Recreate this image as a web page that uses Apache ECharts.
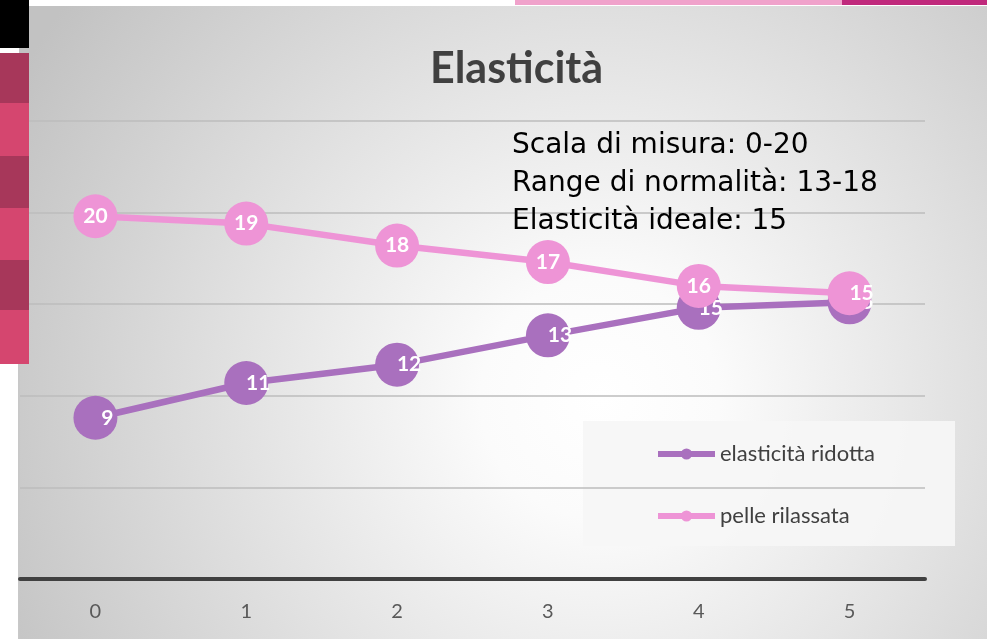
<!DOCTYPE html>
<html>
<head>
<meta charset="utf-8">
<script src="https://cdn.jsdelivr.net/npm/echarts@6/dist/echarts.min.js"></script>
<style>
html,body{margin:0;padding:0;background:#fff;}
#chart{width:987px;height:639px;}
</style>
</head>
<body>
<div id="chart"></div>
<script>
// ---- data ----
const categories = ['0', '1', '2', '3', '4', '5'];
const seriesNames = ['elasticità ridotta', 'pelle rilassata'];
// plotted values
const elasticitaRidotta = [8.8, 10.7, 11.7, 13.3, 14.8, 15.1];
const pelleRilassata = [19.8, 19.4, 18.2, 17.3, 16.0, 15.6];
// values written in the data labels
const elasticitaRidottaLabels = [9, 11, 12, 13, 15, 15];
const pelleRilassataLabels = [20, 19, 18, 17, 16, 15];
const yMin = 0, yMax = 25, yInterval = 5;
const titleText = 'Elasticità';
const noteLines = ['Scala di misura: 0-20', 'Range di normalità: 13-18', 'Elasticità ideale: 15'];

// ---- styles ----
const purple = '#A970BE';
const pink = '#EE94D6';
const purpleLabelDx = [12, 12, 12, 12, 12, 12];
const pinkLabelDx = [0, 0, 0, 0, 0, 12];

function buildData(values, labels, dx) {
  return values.map((v, i) => ({
    value: v,
    label: { formatter: String(labels[i]), offset: [dx[i], 0] }
  }));
}

const chart = echarts.init(document.getElementById('chart'), null, { renderer: 'canvas' });

const leftBlocks = [];
const blockColors = ['#A7375A', '#D5466F', '#A7375A', '#D5466F', '#A7375A', '#D5466F'];
const blockEdges = [53, 103, 156, 208, 260, 310, 364];
for (let i = 0; i < blockColors.length; i++) {
  leftBlocks.push({
    type: 'rect', z: 20,
    shape: { x: 0, y: blockEdges[i], width: 29, height: blockEdges[i + 1] - blockEdges[i] },
    style: { fill: blockColors[i] }
  });
}

const option = {
  backgroundColor: '#ffffff',
  animation: false,
  title: {
    text: titleText,
    left: 425, top: 43,
    textStyle: { fontFamily: 'Lato', fontWeight: 'bold', fontSize: 43, color: '#404040' }
  },
  legend: {
    orient: 'vertical',
    left: 650, top: 438,
    itemWidth: 57, itemHeight: 14,
    itemGap: 40,
    data: seriesNames,
    lineStyle: { width: 6 },
    textStyle: { fontFamily: 'Lato', fontSize: 22, color: '#404040' }
  },
  grid: { left: 20, right: 62, top: 121, bottom: 60, containLabel: false },
  xAxis: {
    type: 'category',
    data: categories,
    boundaryGap: true,
    axisLine: { show: true, lineStyle: { color: '#404040', width: 4 } },
    axisTick: { show: false },
    axisLabel: { fontFamily: 'Lato', fontSize: 20, color: '#595959', margin: 23 },
    splitLine: { show: false }
  },
  yAxis: {
    type: 'value',
    min: yMin, max: yMax, interval: yInterval,
    axisLine: { show: false }, axisTick: { show: false }, axisLabel: { show: false },
    splitLine: { show: true, lineStyle: { color: '#BDBDBD', width: 1.5 } }
  },
  graphic: [
    // chart area background (radial gradient)
    { type: 'rect', z: -100, shape: { x: 19, y: 6, width: 968, height: 633 },
      style: { fill: new echarts.graphic.RadialGradient(0.6, 0.62, 1.05, [
        { offset: 0, color: '#ffffff' }, { offset: 0.18, color: '#fbfbfb' }, { offset: 1, color: '#c2c2c2' }]) } },
    // left border line of chart frame
    { type: 'rect', z: -99, shape: { x: 18, y: 364, width: 1.5, height: 275 }, style: { fill: '#c8c8c8' } },
    // top decorative band
    { type: 'rect', z: 20, shape: { x: 515, y: 0, width: 330, height: 5 }, style: { fill: '#F0A2CB' } },
    { type: 'rect', z: 20, shape: { x: 842, y: 0, width: 145, height: 5 }, style: { fill: '#C0297C' } },
    // top-left black block
    { type: 'rect', z: 20, shape: { x: 0, y: 0, width: 29, height: 48 }, style: { fill: '#000000' } },
    ...leftBlocks,
    // legend box (beneath grid lines)
    { type: 'rect', z: -50, shape: { x: 583, y: 421, width: 372, height: 125 }, style: { fill: 'rgba(246,246,246,0.92)' } },
    // note text
    { type: 'text', z: 10, left: 512, top: 127,
      style: { text: noteLines.join('\n'), fontFamily: 'DejaVu Sans', fontSize: 28, lineHeight: 38, fill: '#000000' } }
  ],
  series: [
    {
      name: seriesNames[0], type: 'line', z: 2,
      data: buildData(elasticitaRidotta, elasticitaRidottaLabels, purpleLabelDx),
      symbol: 'circle', symbolSize: 44,
      lineStyle: { color: purple, width: 6.5 },
      itemStyle: { color: purple },
      label: { show: true, position: 'inside', color: '#fff', fontFamily: 'Lato', fontWeight: 'bold', fontSize: 21 }
    },
    {
      name: seriesNames[1], type: 'line', z: 3,
      data: buildData(pelleRilassata, pelleRilassataLabels, pinkLabelDx),
      symbol: 'circle', symbolSize: 44,
      lineStyle: { color: pink, width: 6.5 },
      itemStyle: { color: pink },
      label: { show: true, position: 'inside', color: '#fff', fontFamily: 'Lato', fontWeight: 'bold', fontSize: 21 }
    }
  ]
};
chart.setOption(option);
</script>
</body>
</html>
